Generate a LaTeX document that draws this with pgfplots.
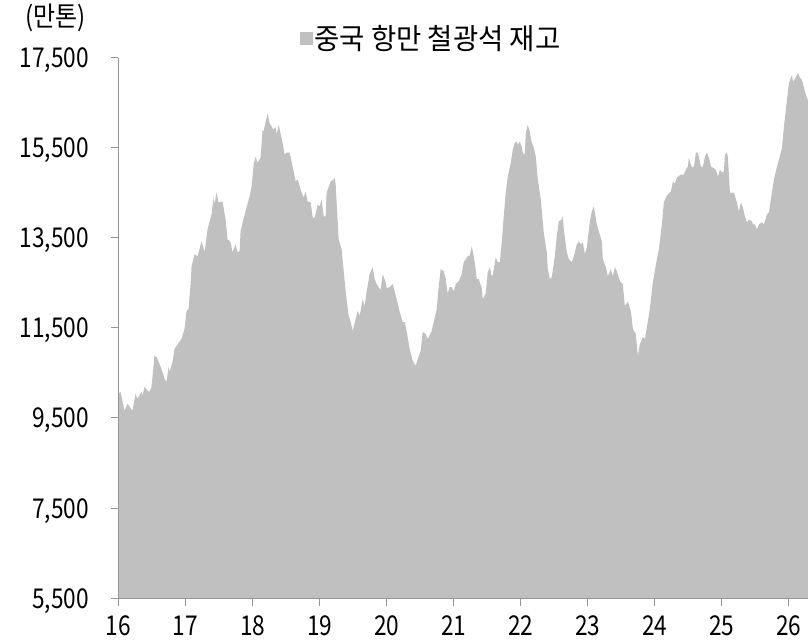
\documentclass[border=0pt]{standalone}
\usepackage{fontspec}
\setmainfont{Noto Sans CJK KR}[FakeStretch=0.83]
\newfontfamily\krfont{Noto Sans CJK KR}[FakeStretch=0.947]
\newfontfamily\unitfont{Noto Sans CJK KR}[FakeStretch=0.88]
\usepackage{pgfplots}
\usepackage{pgfplotstable}
\pgfplotsset{compat=1.18}
\definecolor{areagray}{RGB}{192,192,192}
\definecolor{axisgray}{RGB}{150,150,150}

\pgfplotstableread{
x y
16.000 10039
16.030 10083
16.090 9662
16.134 9817
16.209 9662
16.254 10039
16.284 9928
16.343 10083
16.358 9995
16.388 10194
16.433 10105
16.463 10083
16.493 10194
16.537 10880
16.567 10858
16.642 10592
16.687 10371
16.716 10304
16.746 10636
16.761 10526
16.806 10747
16.836 11035
16.881 11138
16.940 11256
16.985 11480
17.015 11876
17.045 11920
17.075 12474
17.090 12873
17.134 13138
17.179 13094
17.239 13426
17.284 13183
17.328 13692
17.388 14024
17.418 14400
17.433 14245
17.463 14511
17.493 14289
17.552 14312
17.597 13913
17.627 13470
17.672 13404
17.701 13183
17.746 13360
17.776 13183
17.806 13205
17.821 13648
17.851 13847
17.910 14179
17.955 14422
17.985 14644
18.015 15131
18.045 15308
18.075 15175
18.119 15286
18.149 15906
18.164 15861
18.194 16083
18.224 16260
18.254 16061
18.284 15972
18.313 15906
18.343 15972
18.358 15795
18.388 16017
18.448 15618
18.478 15352
18.507 15397
18.552 15397
18.582 15197
18.642 14754
18.672 14799
18.731 14511
18.761 14400
18.791 14533
18.821 14312
18.866 14289
18.896 13958
18.925 13935
18.970 14245
19.000 14201
19.030 14356
19.060 13980
19.090 13980
19.104 14511
19.164 14754
19.209 14799
19.224 14843
19.239 14688
19.284 13470
19.328 13249
19.388 12314
19.433 11768
19.463 11633
19.493 11434
19.537 11700
19.567 11876
19.597 11768
19.642 12142
19.672 11987
19.701 12314
19.746 12696
19.791 12851
19.821 12585
19.851 12474
19.881 12407
19.910 12341
19.940 12696
19.985 12518
20.000 12383
20.045 12407
20.090 12474
20.149 12142
20.194 11855
20.239 11633
20.269 11633
20.299 11411
20.343 11035
20.388 10769
20.433 10659
20.463 10814
20.507 10991
20.537 11411
20.582 11367
20.612 11256
20.672 11434
20.701 11633
20.746 11920
20.776 12430
20.806 12806
20.851 12762
20.881 12585
20.910 12273
20.940 12407
20.970 12407
21.000 12314
21.030 12474
21.075 12541
21.119 12696
21.149 12962
21.209 13094
21.239 13116
21.269 13316
21.299 13094
21.328 12806
21.343 12585
21.373 12585
21.418 12383
21.433 12142
21.478 12273
21.507 12740
21.537 12851
21.567 12651
21.582 12673
21.627 13072
21.657 12962
21.687 12962
21.716 13404
21.746 13980
21.776 14511
21.806 14865
21.851 15175
21.881 15463
21.910 15618
21.940 15640
21.955 15574
21.985 15640
22.015 15529
22.030 15397
22.060 15352
22.075 15839
22.104 16017
22.134 15861
22.164 15618
22.194 15507
22.224 15308
22.254 14799
22.299 14356
22.343 13625
22.388 13183
22.403 12806
22.433 12585
22.463 12629
22.507 13094
22.537 13537
22.567 13869
22.612 13913
22.627 13980
22.642 13692
22.687 13183
22.716 13028
22.761 12962
22.791 13094
22.836 13360
22.866 13426
22.896 13360
22.925 13404
22.955 13138
22.985 13293
23.030 13869
23.060 14090
23.090 14201
23.134 13803
23.164 13648
23.209 13426
23.224 13028
23.269 12851
23.299 12651
23.343 12806
23.373 12651
23.403 12851
23.433 12762
23.478 12541
23.522 12474
23.552 11987
23.597 12086
23.642 11876
23.672 11480
23.716 11367
23.746 10880
23.776 11138
23.821 11301
23.851 11256
23.881 11522
23.925 11920
23.970 12518
24.030 13028
24.060 13249
24.104 13803
24.134 14289
24.179 14445
24.239 14533
24.269 14754
24.299 14710
24.328 14843
24.388 14910
24.433 14910
24.463 15020
24.493 15087
24.507 15286
24.552 15064
24.582 15087
24.612 15397
24.642 15397
24.687 15087
24.716 15087
24.746 15308
24.776 15397
24.806 15286
24.836 15087
24.866 15064
24.910 15020
24.940 14865
24.970 15020
25.000 14954
25.030 14976
25.045 15352
25.075 15397
25.090 15286
25.119 14511
25.149 14511
25.179 14511
25.224 14289
25.254 14090
25.284 14289
25.313 14179
25.343 13980
25.373 13847
25.403 13913
25.448 13869
25.463 13803
25.493 13803
25.522 13692
25.552 13803
25.597 13847
25.627 13803
25.672 14024
25.701 14068
25.746 14511
25.776 14799
25.821 15087
25.851 15242
25.896 15507
25.925 15972
25.970 16570
26.000 16946
26.045 17124
26.060 16969
26.104 17079
26.134 17168
26.164 17057
26.194 17013
26.239 16747
26.269 16617
26.284 16570
}\stocks

\begin{document}
\begin{tikzpicture}
\path[use as bounding box] (-118.5bp,-42bp) rectangle (689.5bp,598bp);
\begin{axis}[
  at={(0pt,0pt)}, anchor=south west,
  scale only axis, width=689.5bp, height=540bp,
  xmin=16, xmax=26.284, ymin=5500, ymax=17500,
  axis x line=bottom, axis y line=left,
  axis line style={-, draw=axisgray, line width=1bp},
  axis on top,
  xtick={16,17,...,26}, ytick={5500,7500,...,17500},
  scaled y ticks=false, scaled x ticks=false,
  tick align=outside, major tick length=8bp,
  tick style={axisgray, line width=1bp},
  ticklabel style={font=\fontsize{27.3bp}{30bp}\selectfont, text=black},
  xticklabel style={anchor=base, inner sep=0pt, yshift=-29bp},
  yticklabel style={anchor=base east, inner sep=0pt, xshift=-21.5bp, yshift=-10bp},
  legend style={at={(axis description cs:0.263,1.037)}, anchor=west, draw=none, fill=none, inner sep=0pt,
    font=\krfont\fontsize{29bp}{32bp}\selectfont},
  legend image code/.code={\fill[areagray] (0bp,-6.5bp) rectangle (12.5bp,6.5bp);},
  /pgf/number format/fixed,
  /pgf/number format/precision=0,
  /pgf/number format/1000 sep={,},
  /pgf/number format/assume math mode=true,
]
\addplot[fill=areagray, draw=none] table[x=x, y=y] {\stocks} \closedcycle;
\addlegendentry{중국 항만 철광석 재고}
\end{axis}
\node[font=\unitfont\fontsize{27.3bp}{30bp}\selectfont, anchor=center] at (-63bp,580.5bp) {(만톤)};
\end{tikzpicture}
\end{document}
